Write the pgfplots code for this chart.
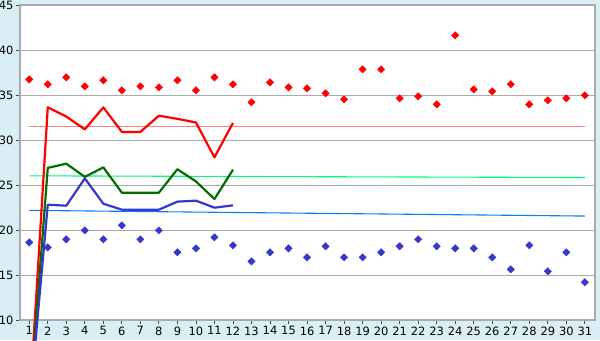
\documentclass[border=0pt]{standalone}
\usepackage{pgfplots}
\pgfplotsset{compat=1.18}
\usepackage{fontspec}
\setmainfont{DejaVu Sans}
\definecolor{bgblue}{RGB}{218,238,245}
\definecolor{gridgray}{RGB}{170,170,170}
\definecolor{lred}{RGB}{255,0,0}
\definecolor{lgreen}{RGB}{0,110,0}
\definecolor{lblue}{RGB}{55,55,205}
\definecolor{tred}{RGB}{255,128,128}
\definecolor{tgreen}{RGB}{0,250,128}
\definecolor{tblue}{RGB}{0,128,255}
\begin{document}
\begin{tikzpicture}[x=1bp,y=1bp]
\useasboundingbox (0,0) rectangle (600,340);
\fill[bgblue] (0,0) rectangle (600,340);
\clip (0,0) rectangle (600,340);
\begin{axis}[
  at={(20bp,20bp)}, anchor=south west,
  scale only axis, width=575bp, height=315bp,
  xmin=0.5, xmax=31.55, ymin=10, ymax=45,
  xtick={1,...,31}, ytick={10,15,...,45},
  axis background/.style={fill=white},
  axis line style={gridgray, line width=1.2pt},
  ymajorgrids, grid style={gridgray, line width=0.9pt},
  tick style={black!70, line width=0.8pt},
  tick align=outside, major tick length=4bp,
  xtick pos=bottom, ytick pos=left,
  clip=false,
  tick label style={font=\fontsize{11.5}{12}\selectfont},
  /pgf/number format/assume math mode=true,
  yticklabel style={xshift=1bp},
  xticklabel style={yshift=1bp},
]
% trend lines
\addplot[tred, line width=1.1pt] coordinates {(1,31.52) (31,31.52)};
\addplot[tgreen, line width=1.1pt] coordinates {(1,26.02) (31,25.83)};
\addplot[tblue, line width=1.1pt] coordinates {(1,22.18) (31,21.55)};
% lines
\addplot[lred, line width=2.2bp, line join=round] coordinates {
 (1,0) (2,33.63) (3,32.6) (4,31.18) (5,33.63) (6,30.9) (7,30.9) (8,32.7) (9,32.35) (10,31.95) (11,28.07) (12,31.9)};
\addplot[lgreen, line width=2.2bp, line join=round] coordinates {
 (1,0) (2,26.9) (3,27.37) (4,25.9) (5,26.96) (6,24.15) (7,24.15) (8,24.15) (9,26.75) (10,25.4) (11,23.44) (12,26.7)};
\addplot[lblue, line width=2.2bp, line join=round] coordinates {
 (1,0) (2,22.81) (3,22.7) (4,25.74) (5,22.92) (6,22.26) (7,22.26) (8,22.26) (9,23.15) (10,23.26) (11,22.48) (12,22.74)};
% markers
\addplot[only marks, mark=square*, mark size=2.6bp, mark options={rotate=45}, color=lred] coordinates {
 (1,36.74) (2,36.19) (3,36.96) (4,35.96) (5,36.63) (6,35.52) (7,35.96) (8,35.85) (9,36.63) (10,35.52)
 (11,36.96) (12,36.19) (13,34.19) (14,36.41) (15,35.85) (16,35.74) (17,35.19) (18,34.52) (19,37.85) (20,37.85)
 (21,34.63) (22,34.85) (23,33.96) (24,41.63) (25,35.63) (26,35.41) (27,36.19) (28,33.96) (29,34.41) (30,34.63) (31,34.96)};
\addplot[only marks, mark=square*, mark size=2.6bp, mark options={rotate=45}, color=lblue] coordinates {
 (1,18.63) (2,18.07) (3,18.96) (4,19.96) (5,18.96) (6,20.52) (7,18.96) (8,19.96) (9,17.52) (10,17.96)
 (11,19.19) (12,18.3) (13,16.52) (14,17.52) (15,17.96) (16,16.96) (17,18.19) (18,16.96) (19,16.96) (20,17.52)
 (21,18.19) (22,18.96) (23,18.19) (24,17.96) (25,17.96) (26,16.96) (27,15.63) (28,18.3) (29,15.41) (30,17.52) (31,14.19)};
\end{axis}
\end{tikzpicture}
\end{document}
